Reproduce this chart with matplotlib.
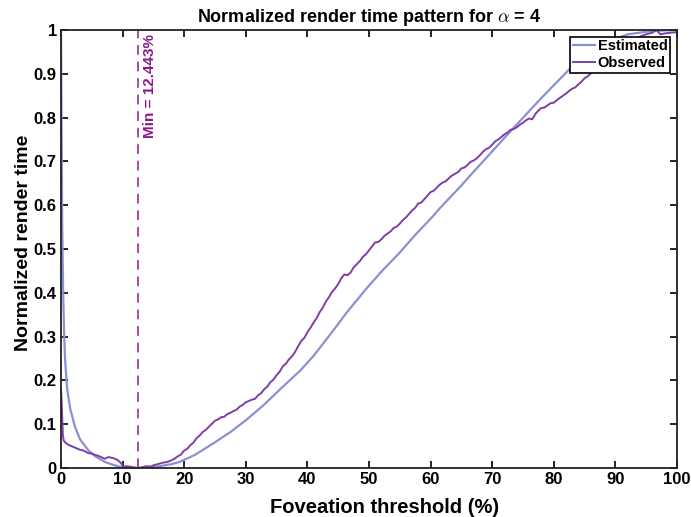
import numpy as np
import matplotlib
matplotlib.use('Agg')
import matplotlib.pyplot as plt

# foveation threshold (%) and normalized render time, fitted model
est_x = [0, 0.1, 0.2, 0.35, 0.5, 0.65, 1.0, 1.5, 2.27, 3.1, 4.4, 5.5, 7.1, 8.5,
         9.85, 11.0, 12.44, 14.0, 16.0, 18.0, 19.3, 21.75, 24.7, 27.5, 30.1, 33.0,
         35.6, 38.8, 41.0, 42.5, 44.2, 46.5, 49.6, 52.0, 55.0, 57.5, 60.4, 61.5,
         64.8, 66.9, 72.4, 77.8, 83.2, 88.0, 92.0, 96.0, 100.0]
est_y = [1.0, 0.75, 0.55, 0.40, 0.31, 0.25, 0.18, 0.135, 0.094, 0.065, 0.041, 0.027,
         0.014, 0.007, 0.002, 0.0005, 0.0, 0.001, 0.004, 0.009, 0.014, 0.030, 0.056,
         0.082, 0.110, 0.145, 0.180, 0.222, 0.256, 0.283, 0.314, 0.357, 0.410, 0.448,
         0.492, 0.532, 0.575, 0.593, 0.642, 0.675, 0.760, 0.842, 0.920, 0.970, 0.990,
         0.998, 1.0]

# measured render times
obs_x = [0, 0.1, 0.2, 0.3, 0.45, 0.8, 1.2, 2.0, 3.0, 3.6, 4.4, 5.0, 5.5, 6.0, 6.5,
         7.1, 7.7, 8.3, 8.8, 9.3, 9.8, 10.1, 10.8, 11.5, 12.44, 13.0, 13.5, 14.0,
         14.5, 15.0, 15.5, 16.0, 16.5, 17.0, 17.5, 18.0, 18.5, 19.0, 19.5, 20.0,
         20.5, 21.0, 21.5, 22.0, 22.5, 23.0, 23.5, 24.0, 24.5, 25.0, 25.5, 26.0,
         26.5, 27.0, 27.5, 28.0, 28.5, 29.0, 29.5, 30.0, 30.5, 31.0, 31.5, 32.0,
         32.5, 33.0, 33.5, 34.0, 34.5, 35.0, 35.5, 36.0, 36.5, 37.0, 37.5, 38.0,
         38.5, 39.0, 39.5, 40.0, 40.5, 41.0, 41.5, 42.0, 42.5, 43.0, 43.5, 44.0,
         44.5, 45.0, 45.5, 46.0, 46.5, 47.0, 47.5, 48.0, 48.5, 49.0, 49.5, 50.0,
         50.5, 51.0, 51.5, 52.0, 52.5, 53.0, 53.5, 54.0, 54.5, 55.0, 55.5, 56.0,
         56.5, 57.0, 57.5, 58.0, 58.5, 59.0, 59.5, 60.0, 60.5, 61.0, 61.5, 62.0,
         62.5, 63.0, 63.5, 64.0, 64.5, 65.0, 65.5, 66.0, 66.5, 67.0, 67.5, 68.0,
         68.5, 69.0, 69.5, 70.0, 70.5, 71.0, 71.5, 72.0, 72.5, 73.0, 73.5, 74.0,
         74.5, 75.0, 75.5, 76.0, 76.5, 77.0, 77.5, 78.0, 78.5, 79.0, 79.5, 80.0,
         80.5, 81.0, 81.5, 82.0, 82.5, 83.0, 83.5, 84.0, 84.5, 85.0, 85.5, 86.0,
         87.0, 88.0, 89.0, 90.0, 91.0, 92.0, 93.0, 94.0, 95.0, 96.0, 96.7, 97.3,
         98.0, 99.0, 100.0]
obs_y = [0.180, 0.150, 0.110, 0.075, 0.062, 0.057, 0.053, 0.048, 0.042, 0.040,
         0.034, 0.033, 0.030, 0.028, 0.025, 0.021, 0.025, 0.023, 0.021, 0.017,
         0.010, 0.003, 0.004, 0.002, 0.000, 0.001, 0.003, 0.004, 0.003, 0.006,
         0.008, 0.010, 0.012, 0.013, 0.015, 0.018, 0.022, 0.027, 0.031, 0.040,
         0.044, 0.052, 0.058, 0.068, 0.074, 0.082, 0.087, 0.094, 0.101, 0.108,
         0.111, 0.116, 0.117, 0.123, 0.126, 0.130, 0.133, 0.140, 0.144, 0.150,
         0.153, 0.156, 0.158, 0.166, 0.171, 0.180, 0.186, 0.196, 0.202, 0.212,
         0.220, 0.232, 0.238, 0.248, 0.255, 0.265, 0.278, 0.290, 0.297, 0.310,
         0.320, 0.332, 0.342, 0.356, 0.366, 0.380, 0.390, 0.402, 0.410, 0.420,
         0.433, 0.442, 0.440, 0.446, 0.458, 0.465, 0.472, 0.482, 0.488, 0.497,
         0.506, 0.515, 0.516, 0.522, 0.530, 0.535, 0.540, 0.548, 0.551, 0.558,
         0.566, 0.572, 0.580, 0.588, 0.594, 0.604, 0.606, 0.614, 0.622, 0.630,
         0.633, 0.640, 0.647, 0.652, 0.655, 0.662, 0.668, 0.672, 0.676, 0.684,
         0.686, 0.692, 0.699, 0.702, 0.707, 0.714, 0.722, 0.728, 0.731, 0.738,
         0.746, 0.750, 0.756, 0.762, 0.766, 0.772, 0.774, 0.778, 0.784, 0.788,
         0.794, 0.798, 0.796, 0.808, 0.816, 0.822, 0.823, 0.828, 0.833, 0.834,
         0.840, 0.845, 0.850, 0.855, 0.861, 0.866, 0.869, 0.876, 0.882, 0.890,
         0.894, 0.901, 0.912, 0.924, 0.935, 0.946, 0.956, 0.965, 0.975, 0.985,
         0.990, 0.994, 1.000, 0.990, 0.992, 0.994, 0.995]

min_pct = 12.443

plt.rcParams['font.family'] = ['Liberation Sans', 'DejaVu Sans']
plt.rcParams['font.weight'] = 'bold'
plt.rcParams['mathtext.fontset'] = 'cm'

fig = plt.figure(figsize=(6.91, 5.17), dpi=100)
ax = fig.add_axes([0.0883, 0.0948, 0.8914, 0.8472])

ax.plot(est_x, est_y, color='#8a90d4', lw=1.6, label='Estimated')
ax.plot(obs_x, obs_y, color='#7e3fa6', lw=1.4, label='Observed')
ax.axvline(min_pct, color='#a84aae', lw=1.4, ls=(0, (5, 3.5)))
ax.text(min_pct + 2.0, 0.99, 'Min = %.3f%%' % min_pct, rotation=90,
        ha='center', va='top', color='#8b1a8b', fontsize=11, fontweight='bold')

ax.set_xlim(0, 100)
ax.set_ylim(0, 1)
ax.set_xticks(np.arange(0, 101, 10))
ax.set_yticks(np.arange(0, 1.01, 0.1))
ax.set_yticklabels(['0', '0.1', '0.2', '0.3', '0.4', '0.5', '0.6', '0.7', '0.8', '0.9', '1'])
ax.tick_params(direction='in', top=True, right=True, length=5, width=1.2,
               labelsize=12, pad=3)
for s in ax.spines.values():
    s.set_linewidth(1.3)
    s.set_color('#222222')

ax.set_xlabel('Foveation threshold (%)', fontsize=14.5, fontweight='bold')
ax.set_ylabel('Normalized render time', fontsize=14, fontweight='bold')
ax.xaxis.set_label_coords(0.525, -0.068)
ax.yaxis.set_label_coords(-0.047, 0.515)
ax.set_title(r'Normalized render time pattern for $\alpha$ = 4', fontsize=13,
             fontweight='bold', pad=6)

leg = ax.legend(loc='upper right', fontsize=10.5, handlelength=1.5, handletextpad=0.2,
                borderpad=0.2, borderaxespad=0.45, labelspacing=0.15, fancybox=False,
                framealpha=1)
leg.get_frame().set_edgecolor('black')
leg.get_frame().set_linewidth(1.2)

fig.savefig('out.png', dpi=100)
